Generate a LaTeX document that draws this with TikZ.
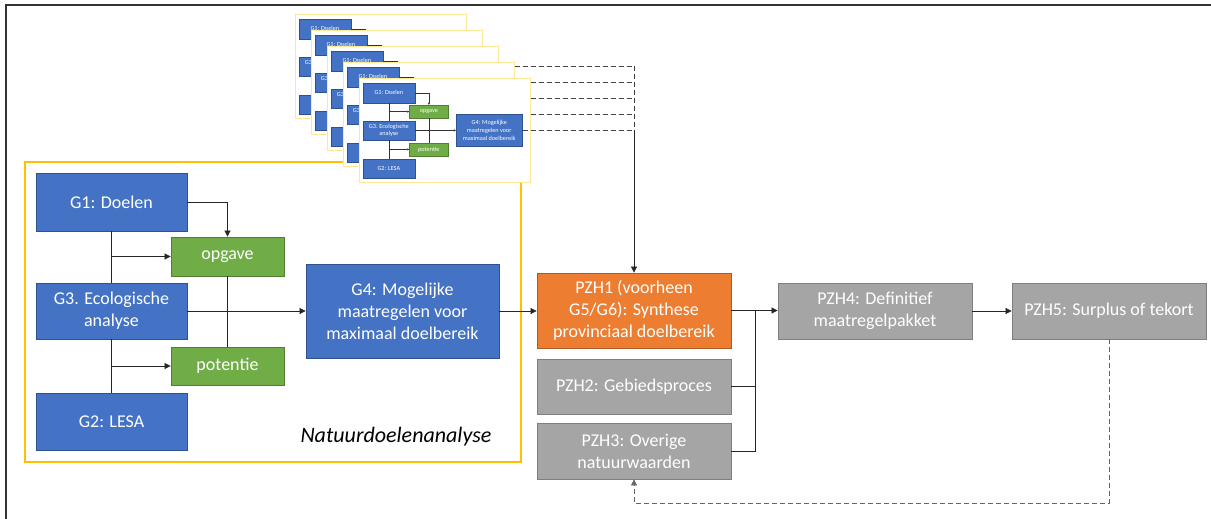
\documentclass[tikz,border=0pt]{standalone}
\usepackage{fontspec}
\setmainfont{Carlito}
\usetikzlibrary{arrows.meta}
\definecolor{ofblue}{HTML}{4472C4}
\definecolor{ofblueb}{HTML}{2F528F}
\definecolor{ofgreen}{HTML}{70AD47}
\definecolor{ofgreenb}{HTML}{507E32}
\definecolor{oforange}{HTML}{ED7D31}
\definecolor{oforangeb}{HTML}{AE5A21}
\definecolor{ofgray}{HTML}{A5A5A5}
\definecolor{ofgrayb}{HTML}{7F7F7F}
\definecolor{ofyellow}{HTML}{FFC000}
\definecolor{slideyellow}{HTML}{FFE699}
\tikzset{
  boxlw/.style={line width=0.8pt},
  basebox/.style={boxlw, text=white, align=center, inner sep=0pt,
    font=\fontsize{18}{22}\selectfont},
  bbox/.style={basebox, fill=ofblue, draw=ofblueb},
  gbox/.style={basebox, fill=ofgreen, draw=ofgreenb},
  obox/.style={basebox, fill=oforange, draw=oforangeb, minimum width=194pt},
  pbox/.style={basebox, fill=ofgray, draw=ofgrayb, minimum width=194pt},
  conn/.style={draw=black!85, line width=0.7pt},
  arr/.style={-{Triangle[length=6pt,width=6pt]}},
  dashconn/.style={draw=black!75, line width=0.9pt, dash pattern=on 5pt off 3pt},
}
\newcommand{\ndadiag}[1]{%
  \node[bbox, minimum width=151pt, minimum height=58pt] (#1g1) at (111.5,202) {G1: Doelen};
  \node[bbox, minimum width=151pt, minimum height=56pt] (#1g3) at (111.5,311) {G3. Ecologische\\analyse};
  \node[bbox, minimum width=151pt, minimum height=57pt] (#1g2) at (111.5,421.5) {G2: LESA};
  \node[gbox, minimum width=113pt, minimum height=39pt] (#1op) at (227.5,256.5) {opgave};
  \node[gbox, minimum width=113pt, minimum height=38pt] (#1po) at (227.5,366) {potentie};
  \node[bbox, minimum width=193pt, minimum height=94pt] (#1g4) at (402.5,311) {G4: Mogelijke\\maatregelen voor\\maximaal doelbereik};
  \draw[conn] (#1g1.south) -- (#1g3.north);
  \draw[conn] (#1g3.south) -- (#1g2.north);
  \draw[conn,arr] (#1g1.east) -| (#1op.north);
  \draw[conn,arr] (#1g1.south |- #1op.west) -- (#1op.west);
  \draw[conn,arr] (#1g1.south |- #1po.west) -- (#1po.west);
  \draw[conn] (#1op.south) -- (#1po.north);
  \draw[conn,arr] (#1g3.east) -- (#1g4.west);
}
\begin{document}
\begin{tikzpicture}[x=1pt,y=-1pt]
  \useasboundingbox (0,0) rectangle (1211,519);
  \fill[white] (0,0) rectangle (1211,519);
  % frame (top and left edges)
  \draw[line width=1.5pt, black!80] (6,519) -- (6,5) -- (1211,5);
  % main analysis box
  \draw[ofyellow, line width=1.5pt] (25,162) rectangle (521,462);
  \ndadiag{m}
  \node[font=\itshape\fontsize{22}{26}\selectfont, anchor=center] (nda) at (396,437) {Natuurdoelenanalyse};
  % PZH nodes
  \node[obox, minimum height=75pt] (pzh1) at (634,310.5) {PZH1 (voorheen\\G5/G6): Synthese\\provinciaal doelbereik};
  \node[pbox, minimum height=55pt] (pzh2) at (634,386.5) {PZH2: Gebiedsproces};
  \node[pbox, minimum height=56pt] (pzh3) at (634,451) {PZH3: Overige\\natuurwaarden};
  \node[pbox, minimum height=56pt] (pzh4) at (875,311) {PZH4: Definitief\\maatregelpakket};
  \node[pbox, minimum height=56pt] (pzh5) at (1109,311) {PZH5: Surplus of tekort};
  % stacked slides
  \foreach \k [evaluate=\k as \sx using 295+16*(\k-1), evaluate=\k as \sy using 15+16*(\k-1)] in {1,...,5}{
    \begin{scope}[shift={(\sx,\sy)}, scale=0.345, shift={(-25,-162)},
        every node/.append style={transform shape},
        boxlw/.style={line width=0.3pt},
        conn/.style={draw=black!80, line width=0.3pt},
        arr/.style={-{Triangle[length=2pt,width=2pt]}}]
      \draw[slideyellow, fill=white, line width=1pt] (25,162) rectangle (521,462);
      \ndadiag{s\k}
    \end{scope}
    \draw[dashconn] (s\k g4.east) -- (s\k g4.east -| pzh1.north);
  }
  % vertical collector
  \draw[dashconn] (pzh1.north |- s1g4.east) -- (pzh1.north |- s5g4.east);
  \draw[conn,arr] (pzh1.north |- s5g4.east) -- (pzh1.north);
  % main flow
  \draw[conn,arr] (mg4.east) -- (pzh1.west |- mg4.east);
  \coordinate (jx) at (755,0);
  \draw[conn,arr] (pzh1.east) -- (pzh4.west |- pzh1.east);
  \draw[conn] (pzh3.east) -| (jx |- pzh1.east);
  \draw[conn] (pzh2.east) -- (pzh2.east -| jx);
  \draw[conn,arr] (pzh4.east) -- (pzh5.west);
  \coordinate (fb) at (0,503);
  \draw[dashconn, line width=0.7pt, draw=black!60, arr] (pzh5.south) -- (pzh5.south |- fb) -| (pzh3.south);
\end{tikzpicture}
\end{document}
